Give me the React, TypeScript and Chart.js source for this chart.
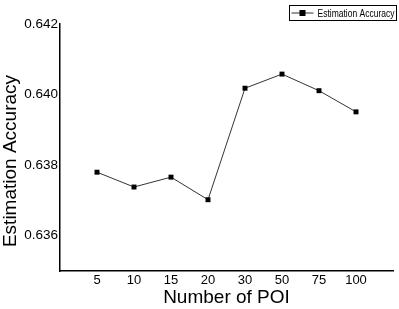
import React, { useEffect, useRef } from "react";
import { Chart, registerables } from "chart.js";

Chart.register(...registerables);

const xLabels = ["5", "10", "15", "20", "30", "50", "75", "100"];
const accuracy = [0.6378, 0.63738, 0.63766, 0.63702, 0.64018, 0.64058, 0.64011, 0.63951];
const yTickValues = [0.636, 0.638, 0.64, 0.642];
const seriesName = "Estimation Accuracy";
const xTitle = "Number of POI";
const yTitle = "Estimation Accuracy";

const FONT = "'Liberation Sans', Arial, sans-serif";
const NARROW = "'Liberation Sans Narrow', 'Liberation Sans', Arial, sans-serif";

const extrasPlugin = {
  id: "extras",
  afterDraw(chart: any) {
    const ctx = chart.ctx;
    ctx.save();
    // y-axis title
    ctx.fillStyle = "#000";
    ctx.font = `19px ${FONT}`;
    ctx.textAlign = "center";
    ctx.textBaseline = "middle";
    ctx.translate(11, 161);
    ctx.rotate(-Math.PI / 2);
    ctx.fillText(yTitle, 0, 0);
    ctx.restore();

    // legend
    ctx.save();
    const bx = 289.5, by = 5.5, bw = 107, bh = 15;
    ctx.strokeStyle = "#000";
    ctx.lineWidth = 1;
    ctx.strokeRect(bx, by, bw, bh);
    const cy = by + bh / 2;
    ctx.strokeStyle = "#333";
    ctx.beginPath();
    ctx.moveTo(bx + 2, cy);
    ctx.lineTo(bx + 24, cy);
    ctx.stroke();
    ctx.fillStyle = "#000";
    ctx.fillRect(bx + 13 - 3, cy - 3, 6, 6);
    ctx.font = `11px ${NARROW}`;
    ctx.textAlign = "left";
    ctx.textBaseline = "middle";
    const tx = bx + 28;
    const maxW = bw - 30;
    const w = ctx.measureText(seriesName).width;
    const sx = w > maxW ? maxW / w : 1;
    ctx.translate(tx, cy + 0.5);
    ctx.scale(sx, 1);
    ctx.fillText(seriesName, 0, 0);
    ctx.restore();
  },
};

export default function App() {
  const ref = useRef<HTMLCanvasElement | null>(null);
  useEffect(() => {
    if (!ref.current) return;
    const chart = new Chart(ref.current, {
      type: "line",
      data: {
        datasets: [
          {
            label: seriesName,
            data: accuracy.map((v, i) => ({ x: i + 1, y: v })),
            borderColor: "#333",
            borderWidth: 1,
            pointStyle: "rect",
            pointRadius: 3.5,
            pointBackgroundColor: "#000",
            pointBorderColor: "#000",
            pointBorderWidth: 0,
            tension: 0,
          },
        ],
      },
      options: {
        animation: false,
        responsive: true,
        maintainAspectRatio: false,
        layout: { padding: { top: 24, right: 6, left: 0, bottom: 0 } },
        plugins: { legend: { display: false }, tooltip: { enabled: false } },
        scales: {
          x: {
            type: "linear",
            min: 0,
            max: xLabels.length + 1,
            grid: { display: false, drawTicks: false },
            border: { color: "#000", width: 1.5 },
            afterBuildTicks: (s: any) => {
              s.ticks = xLabels.map((_, i) => ({ value: i + 1 }));
            },
            afterFit: (s: any) => {
              s.height = 38;
            },
            ticks: {
              autoSkip: false,
              maxRotation: 0,
              padding: 2,
              color: "#000",
              font: { family: FONT, size: 13 },
              callback: (v: any) => xLabels[Number(v) - 1] ?? "",
            },
            title: {
              display: true,
              text: xTitle,
              color: "#000",
              font: { family: FONT, size: 19 },
              padding: { top: 0, bottom: 0 },
            },
          },
          y: {
            min: 0.635,
            max: 0.642,
            grid: { display: false, drawTicks: false },
            border: { color: "#000", width: 1.5 },
            afterBuildTicks: (s: any) => {
              s.ticks = yTickValues.map((v) => ({ value: v }));
            },
            afterFit: (s: any) => {
              s.width = 60;
            },
            ticks: {
              padding: 2,
              color: "#000",
              font: { family: FONT, size: 13.5 },
              callback: (v: any) => Number(v).toFixed(3),
            },
          },
        },
      },
      plugins: [extrasPlugin],
    });
    return () => chart.destroy();
  }, []);
  return (
    <div style={{ position: "absolute", left: 0, top: 0, width: 399, height: 309 }}>
      <canvas ref={ref} />
    </div>
  );
}
